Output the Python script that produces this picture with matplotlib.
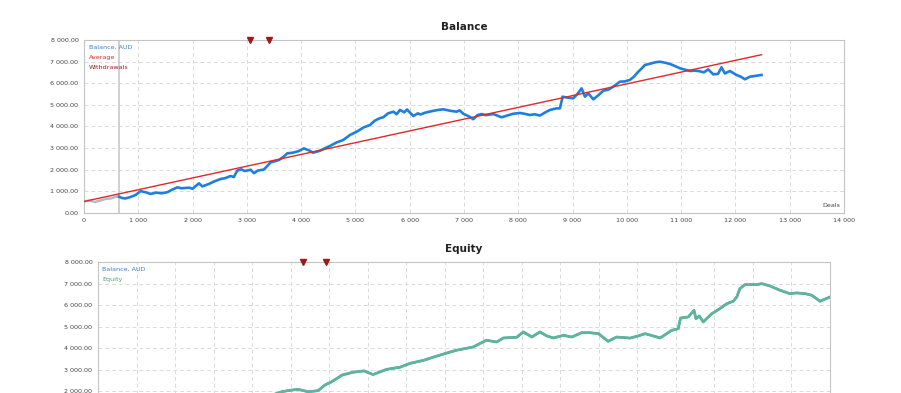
"""Balance / Equity report charts (MT5-style tester report)."""

import matplotlib
matplotlib.use("Agg")
import matplotlib.pyplot as plt
from matplotlib.ticker import FuncFormatter, MultipleLocator

# ---- Balance chart data (deals -> AUD) ----
pre_deals = [0, 100, 200, 300, 400, 500, 560, 645]
pre_balance = [520, 560, 500, 560, 640, 660, 720, 770]

deals = [645, 700, 760, 850, 950, 1044, 1130, 1228, 1330, 1430, 1535, 1620, 1720, 1800,
         1934, 2000, 2118, 2180, 2300, 2400, 2517, 2600, 2702, 2760, 2824, 2900, 2960,
         3070, 3131, 3200, 3315, 3438, 3520, 3592, 3680, 3745, 3850, 3950, 4052, 4150,
         4220, 4347, 4450, 4531, 4650, 4777, 4900, 5022, 5150, 5268, 5350, 5450, 5514,
         5600, 5700, 5760, 5820, 5900, 5950, 6066, 6150, 6200, 6281, 6400, 6500, 6619,
         6750, 6864, 6920, 6990, 7100, 7171, 7250, 7325, 7400, 7540, 7693, 7800, 7900,
         8031, 8120, 8215, 8300, 8400, 8500, 8584, 8700, 8768, 8817, 8910, 9013, 9090,
         9167, 9228, 9290, 9382, 9480, 9566, 9660, 9750, 9873, 9960, 10057, 10130,
         10211, 10280, 10333, 10456, 10530, 10610, 10700, 10794, 10900, 10978, 11080,
         11162, 11260, 11346, 11420, 11499, 11591, 11680, 11744, 11806, 11898, 12021,
         12100, 12175, 12267, 12380, 12482]
balance = [740, 680, 660, 720, 820, 1000, 950, 870, 930, 900, 950, 1060, 1175, 1130,
           1160, 1110, 1360, 1220, 1330, 1450, 1560, 1600, 1700, 1650, 1950, 2010, 1930,
           1990, 1830, 1950, 2000, 2330, 2390, 2440, 2600, 2750, 2780, 2850, 2980, 2880,
           2780, 2870, 3000, 3090, 3250, 3370, 3600, 3750, 3950, 4060, 4250, 4380, 4420,
           4600, 4680, 4560, 4760, 4650, 4780, 4480, 4600, 4550, 4630, 4700, 4750, 4790,
           4720, 4680, 4740, 4580, 4450, 4330, 4520, 4570, 4520, 4570, 4420, 4500, 4580,
           4620, 4580, 4525, 4560, 4500, 4650, 4760, 4830, 4835, 5375, 5330, 5300, 5500,
           5760, 5375, 5530, 5250, 5450, 5650, 5700, 5840, 6070, 6080, 6150, 6300,
           6530, 6700, 6840, 6920, 6970, 6995, 6950, 6890, 6780, 6690, 6620,
           6565, 6580, 6550, 6500, 6640, 6410, 6430, 6735, 6450, 6565, 6380,
           6300, 6180, 6300, 6340, 6380]

avg_deals = [0, 12482]
avg_values = [520, 7320]
start_marker_deal = 645
withdrawal_deals = [3060, 3400]

# ---- Equity chart data (time axis, grid units) ----
eq_time = [0, 0.5, 1.0, 1.5, 2.0, 2.5, 3.0, 3.5, 4.0, 4.4, 4.77, 4.95, 5.19, 5.45, 5.71,
           5.89, 6.07, 6.34, 6.63, 6.90, 7.14, 7.49, 7.84, 8.10, 8.45, 8.87, 9.30, 9.74,
           10.08, 10.35, 10.52, 10.87, 11.04, 11.26, 11.47, 11.65, 11.82, 12.08, 12.30,
           12.55, 12.77, 12.99, 13.24, 13.46, 13.81, 14.02, 14.20, 14.41, 14.59, 14.89,
           15.06, 15.12, 15.32, 15.47, 15.52, 15.61, 15.71, 15.93, 16.14, 16.32, 16.49,
           16.58, 16.66, 16.79, 17.10, 17.23, 17.44, 17.70, 17.96, 18.13, 18.36, 18.53,
           18.74, 19.0]
equity = [520, 650, 750, 850, 950, 1050, 1200, 1350, 1550, 1750, 1985, 2040, 2095, 1985,
          2030, 2295, 2450, 2760, 2890, 2950, 2780, 3020, 3120, 3300, 3440, 3680, 3905,
          4060, 4370, 4290, 4475, 4510, 4755, 4520, 4755, 4570, 4475, 4600, 4520, 4720,
          4720, 4675, 4320, 4520, 4470, 4570, 4675, 4570, 4475, 4830, 4905, 5400, 5450,
          5760, 5370, 5495, 5220, 5600, 5835, 6065, 6180, 6375, 6760, 6950, 6950, 6995,
          6890, 6690, 6530, 6565, 6530, 6455, 6180, 6375]
eq_withdrawals = [5.32, 5.92]

BLUE = "#1E7FE0"
RED = "#E02828"
DARK_RED = "#9B1B1B"
GREEN = "#5FB49C"
GRID = "#DADADA"
FRAME = "#C4C4C4"
TXT = "#444444"

plt.rcParams["font.family"] = ["DejaVu Sans"]


def money(v, _):
    return f"{v:,.2f}".replace(",", " ")


def thousands(v, _):
    return f"{int(v):,}".replace(",", " ")


def style(ax):
    for s in ax.spines.values():
        s.set_color(FRAME)
        s.set_linewidth(0.8)
    ax.grid(True, color=GRID, linestyle=(0, (4, 3)), linewidth=0.7)
    ax.set_axisbelow(True)
    ax.set_ylim(0, 8000)
    ax.yaxis.set_major_locator(MultipleLocator(1000))
    ax.yaxis.set_major_formatter(FuncFormatter(money))
    ax.tick_params(length=0, labelsize=4.6, colors=TXT, pad=4)


fig = plt.figure(figsize=(9.01, 3.93), dpi=100, facecolor="white")

# ---------- Balance ----------
ax1 = fig.add_axes([0.0932, 0.4588, 0.8435, 0.4394])
style(ax1)
ax1.set_xlim(0, 14000)
ax1.xaxis.set_major_locator(MultipleLocator(1000))
ax1.xaxis.set_major_formatter(FuncFormatter(thousands))
ax1.axvline(start_marker_deal, color="#C8C8C8", linewidth=1.2, zorder=2)
ax1.plot(pre_deals, pre_balance, color="#B4BCCB", linewidth=1.8, zorder=3)
ax1.plot(deals, balance, color=BLUE, linewidth=1.9, zorder=3)
ax1.plot(avg_deals, avg_values, color=RED, linewidth=1.0, zorder=4)
ax1.plot(withdrawal_deals, [8000] * len(withdrawal_deals), linestyle="none", marker="v",
         markersize=4.5, color=DARK_RED, clip_on=False, zorder=5)
ax1.set_title("Balance", fontsize=7.5, fontweight="bold", color="#222222", pad=7)
ax1.text(0.006, 0.975, "Balance, AUD", transform=ax1.transAxes, fontsize=4.6,
         color="#3F7FC0", va="top")
ax1.text(0.006, 0.915, "Average", transform=ax1.transAxes, fontsize=4.6,
         color=RED, va="top")
ax1.text(0.006, 0.855, "Withdrawals", transform=ax1.transAxes, fontsize=4.6,
         color=DARK_RED, va="top")
ax1.text(0.995, 0.025, "Deals", transform=ax1.transAxes, fontsize=4.6,
         color=TXT, ha="right", va="bottom")

# ---------- Equity (bottom part is cut off in the report) ----------
ax2 = fig.add_axes([0.1088, -0.1056, 0.8124, 0.439])
style(ax2)
ax2.set_xlim(0, 19)
ax2.xaxis.set_major_locator(MultipleLocator(1))
ax2.set_xticklabels([])
ax2.plot(eq_time, equity, color=BLUE, linewidth=1.6, zorder=3)
ax2.plot(eq_time, equity, color=GREEN, linewidth=2.0, zorder=4)
ax2.plot(eq_withdrawals, [8000] * len(eq_withdrawals), linestyle="none", marker="v",
         markersize=4.5, color=DARK_RED, clip_on=False, zorder=5)
ax2.set_title("Equity", fontsize=7.5, fontweight="bold", color="#222222", pad=7)
ax2.text(0.006, 0.975, "Balance, AUD", transform=ax2.transAxes, fontsize=4.6,
         color="#3F7FC0", va="top")
ax2.text(0.006, 0.915, "Equity", transform=ax2.transAxes, fontsize=4.6,
         color="#4FA070", va="top")

fig.savefig("out.png", dpi=100, facecolor="white")
